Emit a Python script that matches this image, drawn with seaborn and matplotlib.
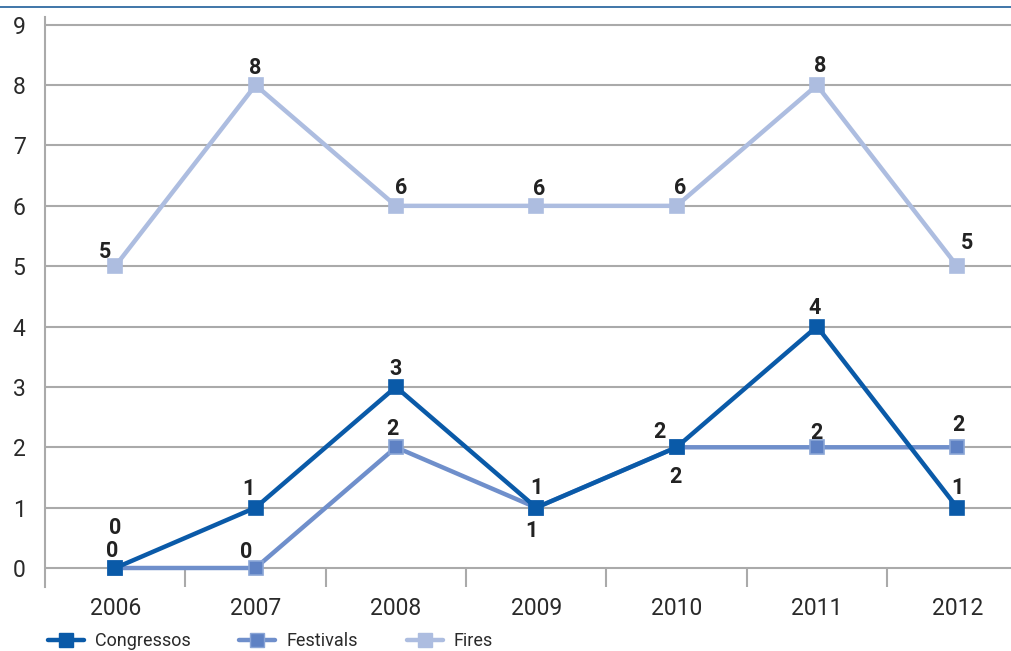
import matplotlib
matplotlib.use("Agg")
import matplotlib.pyplot as plt
from matplotlib.lines import Line2D
import seaborn as sns
import pandas as pd

years = ["2006", "2007", "2008", "2009", "2010", "2011", "2012"]
congressos = [0, 1, 3, 1, 2, 4, 1]
festivals = [0, 0, 2, 1, 2, 2, 2]
fires = [5, 8, 6, 6, 6, 8, 5]
series_names = ["Congressos", "Festivals", "Fires"]

colors = {"Congressos": "#0a5aa8", "Festivals": "#6f8fcb", "Fires": "#adbde0"}
marker_face = {"Congressos": "#0a5aa8", "Festivals": "#5f82c4", "Fires": "#adbde0"}
marker_edge = {"Congressos": "#0a5aa8", "Festivals": "#8aa5d6", "Fires": "#adbde0"}

# label offsets in pixels (dx, dy)
off_cong = [(0, 40), (-7, 19), (0, 18), (0, 20), (-17, 15), (-2, 19), (0, 20)]
off_fest = [(-3, 17), (-9, 16), (-3, 18), (-5, -23), (-1, -30), (0, 14), (1, 22)]
off_fire = [(-10, 14), (0, 17), (5, 18), (3, 17), (4, 18), (3, 19), (10, 23)]

sns.set_style("white")
plt.rcParams["font.family"] = ["Roboto", "DejaVu Sans"]

fig = plt.figure(figsize=(10.12, 6.51), dpi=100)
ax = fig.add_axes([0.0445, 0.0983, 0.9555, 0.8757])

x = list(range(len(years)))
df = pd.DataFrame({"x": x * 3,
                   "value": fires + festivals + congressos,
                   "series": ["Fires"] * 7 + ["Festivals"] * 7 + ["Congressos"] * 7})

for name, z in [("Fires", 3), ("Festivals", 4), ("Congressos", 5)]:
    sub = df[df["series"] == name]
    sns.lineplot(data=sub, x="x", y="value", ax=ax, color=colors[name],
                 linewidth=3.2, marker="s", markersize=10,
                 markerfacecolor=marker_face[name], markeredgecolor=marker_edge[name],
                 markeredgewidth=1.2, zorder=z, legend=False)

for vals, offs in [(fires, off_fire), (congressos, off_cong), (festivals, off_fest)]:
    for xi, v, (dx, dy) in zip(x, vals, offs):
        ax.annotate(str(v), (xi, v), xytext=(dx, dy), textcoords="offset pixels",
                    ha="center", va="center", fontsize=15.5, fontweight="bold",
                    color="#222222", zorder=10)

ax.set_xlim(-0.5, 6.39)
ax.set_ylim(-0.315, 9.13)
ax.set_yticks(range(10))
ax.yaxis.grid(True, color="#aaaaaa", linewidth=1.5)
ax.set_axisbelow(True)
ax.set_xticks(x)
ax.set_xticklabels(years)
ax.tick_params(axis="x", length=0, labelsize=16.5, colors="#2a2a2a", pad=7)
ax.tick_params(axis="y", length=11, width=1.5, color="#aaaaaa", labelsize=16.5,
               labelcolor="#2a2a2a", pad=3)
for s in ["top", "right", "bottom"]:
    ax.spines[s].set_visible(False)
ax.spines["left"].set_color("#aaaaaa")
ax.spines["left"].set_linewidth(1.5)
ax.vlines([i + 0.5 for i in range(6)], -0.315, 0, color="#aaaaaa", linewidth=1.5, zorder=1)
ax.set_xlabel("")
ax.set_ylabel("")

handles = [Line2D([], [], color=colors[n], linewidth=3.2, marker="s", markersize=10,
                  markerfacecolor=marker_face[n], markeredgecolor=marker_edge[n])
           for n in series_names]
leg = ax.legend(handles, series_names, loc="center left", bbox_to_anchor=(0.003, -0.095),
                ncol=3, frameon=False, fontsize=13, handlelength=2.0,
                columnspacing=2.7, handletextpad=0.6, borderpad=0, borderaxespad=0)
for t in leg.get_texts():
    t.set_color("#2a2a2a")

fig.add_artist(Line2D([0, 1], [1 - 7 / 651, 1 - 7 / 651], color="#1f5f9a", linewidth=1.2))

fig.savefig("out.png", dpi=100)
